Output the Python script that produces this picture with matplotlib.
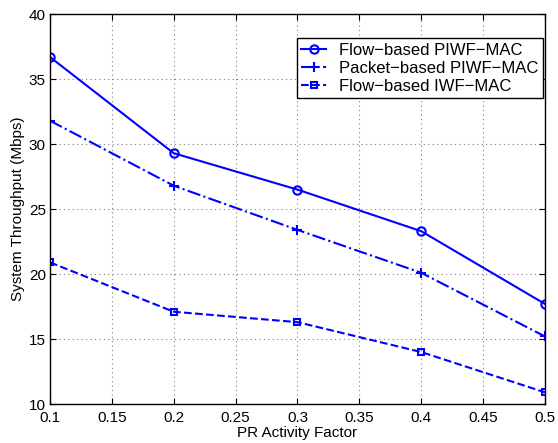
import numpy as np
import matplotlib
matplotlib.use("Agg")
import matplotlib.pyplot as plt

plt.rcParams["font.family"] = ["Liberation Sans", "DejaVu Sans"]

activity = [0.1, 0.2, 0.3, 0.4, 0.5]
flow_piwf = [36.7, 29.3, 26.5, 23.3, 17.7]
packet_piwf = [31.8, 26.8, 23.4, 20.1, 15.2]
flow_iwf = [20.9, 17.1, 16.3, 14.0, 10.9]

labels = ["Flow\u2212based PIWF\u2212MAC", "Packet\u2212based PIWF\u2212MAC",
          "Flow\u2212based IWF\u2212MAC"]

fig = plt.figure(figsize=(5.58, 4.43), dpi=100)
ax = fig.add_axes([0.0896, 0.088, 0.887, 0.88])

ax.plot(activity, flow_piwf, "-o", color="blue", lw=1.5, ms=6,
        mfc="none", mew=1.5, label=labels[0])
ax.plot(activity, packet_piwf, "-.+", color="blue", lw=1.5, ms=7,
        mew=1.5, label=labels[1])
ax.plot(activity, flow_iwf, "--s", color="blue", lw=1.5, ms=5,
        mfc="none", mew=1.5, label=labels[2])

ax.set_xlim(0.1, 0.5)
ax.set_ylim(10, 40)
ax.set_xticks(np.arange(0.1, 0.51, 0.05))
ax.set_xticklabels(["0.1", "0.15", "0.2", "0.25", "0.3", "0.35", "0.4",
                    "0.45", "0.5"])
ax.set_yticks(range(10, 41, 5))
ax.tick_params(direction="in", top=True, right=True, labelsize=11,
               length=4)
ax.tick_params(axis="x", pad=5)
ax.tick_params(axis="y", pad=3)
ax.grid(True, linestyle=(0, (1, 3)), color="gray", lw=0.8)
for s in ax.spines.values():
    s.set_linewidth(1.0)

ax.set_xlabel("PR Activity Factor", fontsize=11, labelpad=1)
ax.set_ylabel("System Throughput (Mbps)", fontsize=11, labelpad=3)

leg = ax.legend(loc="upper right", bbox_to_anchor=(0.996, 0.938), fontsize=12,
                fancybox=False, edgecolor="black", framealpha=1,
                handlelength=1.5, borderpad=0.25, labelspacing=0.2,
                handletextpad=0.8, borderaxespad=0)
leg.get_frame().set_linewidth(1.0)

fig.savefig("out.png", dpi=100)
